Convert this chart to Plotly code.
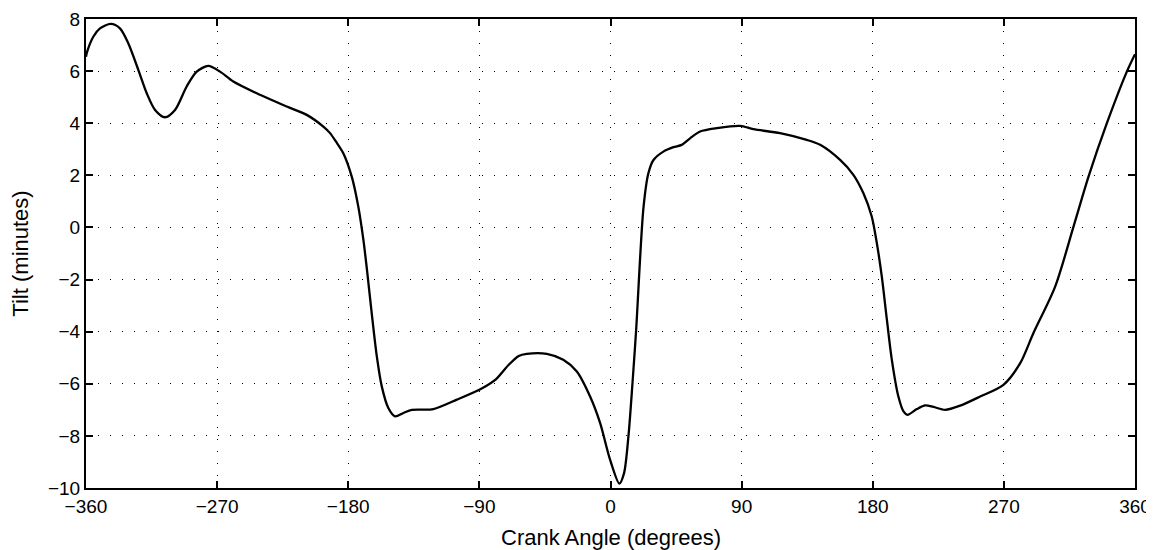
import plotly.graph_objects as go

crank_angle = [-360, -359.5, -355, -350.4, -343, -336.7, -331, -324.1, -318.3, -312.6, -305.8, -298.9,
               -290.9, -284, -276, -268, -258.9, -240.6, -222.2, -208.5, -197.1, -192.5, -188.5, -183.4,
               -177.6, -173.1, -169.6, -166.9, -163.9, -160.4, -157, -152.5, -147.9, -142.1, -136.4,
               -121.6, -105.5, -88.4, -78.5, -70, -63, -57.5, -43.7, -32.4, -23.1, -14, -7.1, -0.3,
               6.1, 9.3, 12.3, 15.1, 17.6, 22.6, 26, 29.5, 36.3, 43.2, 48.9, 54.6, 61.5, 73, 89, 98.1,
               116.4, 134.7, 143.9, 157.6, 166.7, 173.6, 179.3, 182.8, 186.2, 189.7, 193.1, 197.6,
               201.1, 203.8, 210.3, 216, 221.7, 229.7, 240, 253.7, 269.7, 281.2, 290.3, 305.2, 317.8,
               328.1, 340.7, 354.4, 360]
tilt = [6.55, 6.69, 7.32, 7.64, 7.81, 7.64, 7.07, 6.05, 5.15, 4.51, 4.23, 4.51,
        5.41, 5.98, 6.20, 5.98, 5.60, 5.09, 4.64, 4.32, 3.87, 3.62, 3.30, 2.85,
        1.95, 0.80, -0.48, -1.75, -3.29, -4.95, -6.10, -6.93, -7.25, -7.12, -7.00,
        -6.97, -6.61, -6.18, -5.82, -5.28, -4.93, -4.85, -4.85, -5.08, -5.53, -6.49, -7.51, -8.91,
        -9.83, -9.43, -8.02, -5.97, -3.93, 0.74, 2.08, 2.59, 2.91, 3.08, 3.17, 3.42, 3.68, 3.81, 3.90, 3.77,
        3.62, 3.36, 3.17, 2.59, 2.02, 1.31, 0.42, -0.60, -1.88, -3.54, -5.08, -6.49,
        -7.06, -7.19, -6.97, -6.83, -6.89, -7.00, -6.84, -6.49, -6.04, -5.21, -4.05, -2.27, 0.03,
        1.95, 4.0, 5.98, 6.65]

x_ticks = [-360, -270, -180, -90, 0, 90, 180, 270, 360]
y_ticks = [-10, -8, -6, -4, -2, 0, 2, 4, 6, 8]
x_title = "Crank Angle (degrees)"
y_title = "Tilt (minutes)"

fig = go.Figure()
fig.add_trace(go.Scatter(x=crank_angle, y=tilt, mode="lines",
                         line=dict(color="black", width=2.3, shape="spline", smoothing=0.8),
                         showlegend=False, hoverinfo="x+y"))

tick_font = dict(family="Liberation Sans, Arial, sans-serif", size=19, color="black")
title_font = dict(family="Liberation Sans, Arial, sans-serif", size=22, color="black")
axis_common = dict(showline=True, linecolor="black", linewidth=2, mirror="ticks",
                   ticks="inside", ticklen=7, tickwidth=1.5, tickcolor="black",
                   showgrid=True, gridcolor="black", gridwidth=1, griddash="1px,11px",
                   zeroline=False, tickfont=tick_font)

fig.update_xaxes(range=[-360, 360], tickvals=x_ticks,
                 ticktext=[str(v).replace("-", "\u2212") for v in x_ticks], **axis_common)
fig.update_yaxes(range=[-10, 8], tickvals=y_ticks,
                 ticktext=[str(v).replace("-", "\u2212") for v in y_ticks],
                 title=dict(text=y_title, font=title_font, standoff=13), **axis_common)

fig.add_annotation(text=x_title, xref="paper", yref="paper", x=0.5, y=0,
                   xanchor="center", yanchor="middle", yshift=-49, showarrow=False,
                   font=title_font)

fig.update_layout(width=1154, height=542, paper_bgcolor="white", plot_bgcolor="white",
                  margin=dict(l=78, r=27, t=11, b=62, autoexpand=False), font=tick_font)

fig.write_html("out.html")
